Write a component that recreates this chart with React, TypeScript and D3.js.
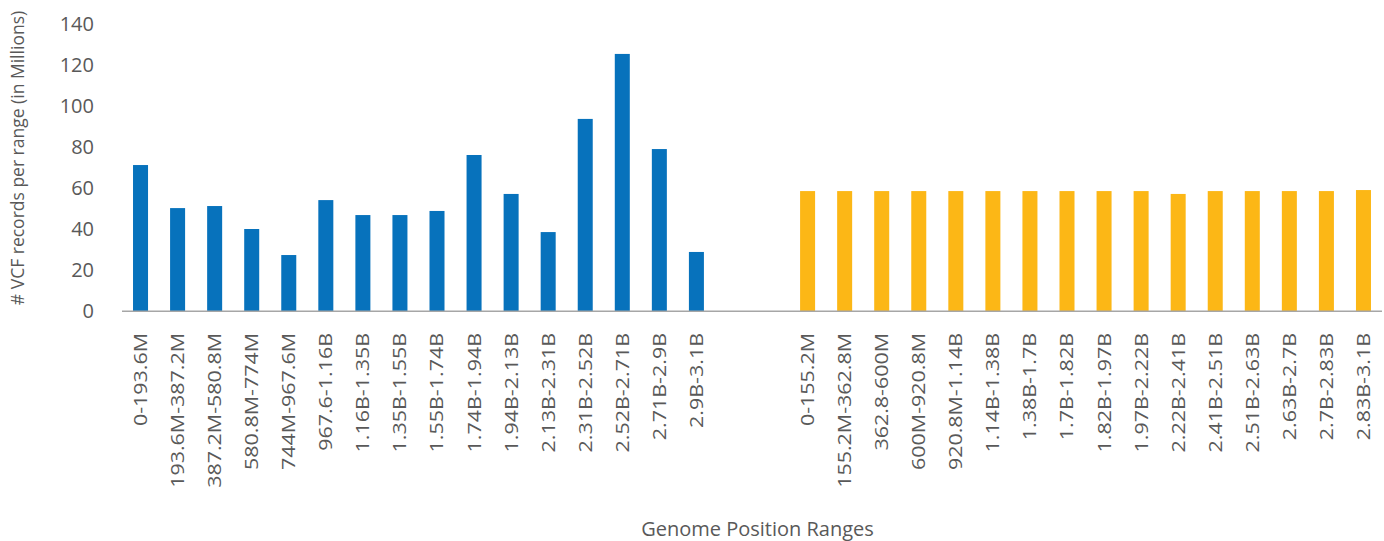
import { useEffect, useRef } from "react";
import * as d3 from "d3";

const blueLabels = [
  "0-193.6M", "193.6M-387.2M", "387.2M-580.8M", "580.8M-774M", "744M-967.6M",
  "967.6-1.16B", "1.16B-1.35B", "1.35B-1.55B", "1.55B-1.74B", "1.74B-1.94B",
  "1.94B-2.13B", "2.13B-2.31B", "2.31B-2.52B", "2.52B-2.71B", "2.71B-2.9B", "2.9B-3.1B",
];
const blueValues = [71.2, 50.2, 51.2, 40.0, 27.3, 54.1, 46.8, 46.8, 48.8, 76.1, 57.1, 38.5, 93.7, 125.4, 79.0, 28.8];

const yellowLabels = [
  "0-155.2M", "155.2M-362.8M", "362.8-600M", "600M-920.8M", "920.8M-1.14B",
  "1.14B-1.38B", "1.38B-1.7B", "1.7B-1.82B", "1.82B-1.97B", "1.97B-2.22B",
  "2.22B-2.41B", "2.41B-2.51B", "2.51B-2.63B", "2.63B-2.7B", "2.7B-2.83B", "2.83B-3.1B",
];
const yellowValues = [58.5, 58.5, 58.5, 58.5, 58.5, 58.5, 58.5, 58.5, 58.5, 58.5, 57.1, 58.5, 58.5, 58.5, 58.5, 59.0];

// two empty slots separate the groups
const gapSlots = ["gap1", "gap2"];
const yTicks = [0, 20, 40, 60, 80, 100, 120, 140];

const App = () => {
  const svgRef = useRef<SVGSVGElement>(null);

  useEffect(() => {
    const width = 1384, height = 541;
    const font = "'Open Sans', 'Noto Sans', sans-serif";
    const textColor = "#595959";

    const svg = d3.select(svgRef.current);
    svg.selectAll("*").remove();
    svg.attr("width", width).attr("height", height);

    const x = d3.scaleBand<string>()
      .domain([...blueLabels, ...gapSlots, ...yellowLabels])
      .range([122, 1382])
      .paddingInner(0.595)
      .paddingOuter(0.2975);

    const y = d3.scaleLinear().domain([0, 140]).range([311, 24]);

    const bars = [
      ...blueLabels.map((l, i) => ({ label: l, value: blueValues[i], color: "#0772BC" })),
      ...yellowLabels.map((l, i) => ({ label: l, value: yellowValues[i], color: "#FCB716" })),
    ];

    svg.append("g")
      .selectAll("rect")
      .data(bars)
      .enter()
      .append("rect")
      .attr("x", d => x(d.label)!)
      .attr("y", d => y(d.value))
      .attr("width", x.bandwidth())
      .attr("height", d => y(0) - y(d.value))
      .attr("fill", d => d.color);

    // baseline
    svg.append("line")
      .attr("x1", 122).attr("x2", 1382)
      .attr("y1", y(0) + 0.25).attr("y2", y(0) + 0.25)
      .attr("stroke", "#a6a6a6")
      .attr("stroke-width", 1.5);

    // y tick labels
    svg.append("g")
      .selectAll("text")
      .data(yTicks)
      .enter()
      .append("text")
      .attr("x", 94)
      .attr("y", d => y(d))
      .attr("dy", "0.35em")
      .attr("text-anchor", "end")
      .attr("font-family", font)
      .attr("font-size", 20)
      .attr("fill", textColor)
      .text(d => d);

    // x labels, rotated
    svg.append("g")
      .selectAll("text")
      .data([...blueLabels, ...yellowLabels])
      .enter()
      .append("text")
      .attr("transform", d => `translate(${x(d)! + x.bandwidth() / 2},333) rotate(-90) scale(1.16,1)`)
      .attr("dy", "0.35em")
      .attr("text-anchor", "end")
      .attr("font-family", font)
      .attr("font-size", 18.5)
      .attr("fill", textColor)
      .text(d => d);

    svg.append("text")
      .attr("transform", "translate(24,158) rotate(-90)")
      .attr("text-anchor", "middle")
      .attr("font-family", font)
      .attr("font-size", 17.5)
      .attr("fill", textColor)
      .text("# VCF records per range (in Millions)");

    svg.append("text")
      .attr("x", 757.5)
      .attr("y", 536)
      .attr("text-anchor", "middle")
      .attr("font-family", font)
      .attr("font-size", 20)
      .attr("fill", textColor)
      .text("Genome Position Ranges");
  }, []);

  return <svg ref={svgRef} style={{ position: "absolute", left: 0, top: 0 }} />;
};

export default App;
